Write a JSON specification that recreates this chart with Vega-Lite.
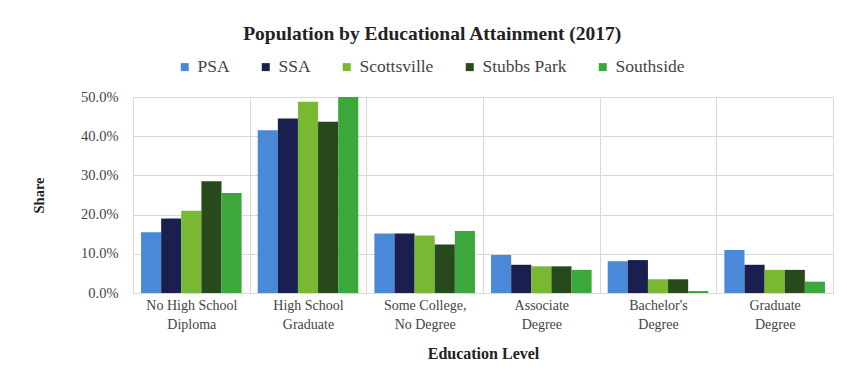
{
  "$schema": "https://vega.github.io/schema/vega-lite/v6.json",
  "autosize": "none",
  "width": 700,
  "height": 196,
  "padding": {"left": 133, "top": 97, "right": 14, "bottom": 95},
  "background": "white",
  "title": {
    "text": "Population by Educational Attainment (2017)",
    "font": "Liberation Serif",
    "fontSize": 19.5,
    "fontWeight": "bold",
    "color": "#222222",
    "anchor": "middle",
    "frame": "bounds",
    "offset": 14
  },
  "data": {
    "values": [
      {"level": "No High School Diploma", "area": "PSA", "share": 0.155},
      {"level": "No High School Diploma", "area": "SSA", "share": 0.19},
      {"level": "No High School Diploma", "area": "Scottsville", "share": 0.21},
      {"level": "No High School Diploma", "area": "Stubbs Park", "share": 0.285},
      {"level": "No High School Diploma", "area": "Southside", "share": 0.255},
      {"level": "High School Graduate", "area": "PSA", "share": 0.415},
      {"level": "High School Graduate", "area": "SSA", "share": 0.445},
      {"level": "High School Graduate", "area": "Scottsville", "share": 0.488},
      {"level": "High School Graduate", "area": "Stubbs Park", "share": 0.437},
      {"level": "High School Graduate", "area": "Southside", "share": 0.5},
      {"level": "Some College, No Degree", "area": "PSA", "share": 0.152},
      {"level": "Some College, No Degree", "area": "SSA", "share": 0.152},
      {"level": "Some College, No Degree", "area": "Scottsville", "share": 0.147},
      {"level": "Some College, No Degree", "area": "Stubbs Park", "share": 0.124},
      {"level": "Some College, No Degree", "area": "Southside", "share": 0.158},
      {"level": "Associate Degree", "area": "PSA", "share": 0.097},
      {"level": "Associate Degree", "area": "SSA", "share": 0.072},
      {"level": "Associate Degree", "area": "Scottsville", "share": 0.068},
      {"level": "Associate Degree", "area": "Stubbs Park", "share": 0.068},
      {"level": "Associate Degree", "area": "Southside", "share": 0.059},
      {"level": "Bachelor's Degree", "area": "PSA", "share": 0.081},
      {"level": "Bachelor's Degree", "area": "SSA", "share": 0.084},
      {"level": "Bachelor's Degree", "area": "Scottsville", "share": 0.035},
      {"level": "Bachelor's Degree", "area": "Stubbs Park", "share": 0.035},
      {"level": "Bachelor's Degree", "area": "Southside", "share": 0.005},
      {"level": "Graduate Degree", "area": "PSA", "share": 0.11},
      {"level": "Graduate Degree", "area": "SSA", "share": 0.072},
      {"level": "Graduate Degree", "area": "Scottsville", "share": 0.059},
      {"level": "Graduate Degree", "area": "Stubbs Park", "share": 0.059},
      {"level": "Graduate Degree", "area": "Southside", "share": 0.029}
    ]
  },
  "mark": {"type": "bar", "clip": true},
  "encoding": {
    "x": {
      "field": "level",
      "type": "nominal",
      "sort": ["No High School Diploma", "High School Graduate", "Some College, No Degree", "Associate Degree", "Bachelor's Degree", "Graduate Degree"],
      "scale": {"paddingInner": 0, "paddingOuter": 0},
      "axis": {
        "title": "Education Level",
        "titleFont": "Liberation Serif",
        "titleFontSize": 16,
        "titleFontWeight": "bold",
        "titleColor": "#222222",
        "titlePadding": 14,
        "labelAngle": 0,
        "labelFont": "Liberation Serif",
        "labelFontSize": 14,
        "labelColor": "#444444",
        "labelPadding": 5,
        "labelLineHeight": 19,
        "labelExpr": "datum.label == 'No High School Diploma' ? ['No High School', 'Diploma'] : datum.label == 'High School Graduate' ? ['High School', 'Graduate'] : datum.label == 'Some College, No Degree' ? ['Some College,', 'No Degree'] : datum.label == 'Associate Degree' ? ['Associate', 'Degree'] : datum.label == \"Bachelor's Degree\" ? [\"Bachelor's\", 'Degree'] : datum.label == 'Graduate Degree' ? ['Graduate', 'Degree'] : ''",
        "ticks": false,
        "grid": true,
        "tickBand": "extent",
        "gridColor": "#d9d9d9",
        "domainColor": "#d9d9d9"
      }
    },
    "xOffset": {
      "field": "area",
      "type": "nominal",
      "sort": ["PSA", "SSA", "Scottsville", "Stubbs Park", "Southside"],
      "scale": {"paddingInner": 0, "paddingOuter": 0.4}
    },
    "y": {
      "field": "share",
      "type": "quantitative",
      "scale": {"domain": [0, 0.5], "nice": false},
      "axis": {
        "title": "Share",
        "titleFont": "Liberation Serif",
        "titleFontSize": 14.5,
        "titleFontWeight": "bold",
        "titleColor": "#222222",
        "titlePadding": 34,
        "format": ".1%",
        "values": [0, 0.1, 0.2, 0.3, 0.4, 0.5],
        "labelFont": "Liberation Serif",
        "labelFontSize": 14.5,
        "labelColor": "#444444",
        "labelPadding": 15,
        "ticks": false,
        "domain": false,
        "gridColor": "#d9d9d9"
      }
    },
    "color": {
      "field": "area",
      "type": "nominal",
      "sort": ["PSA", "SSA", "Scottsville", "Stubbs Park", "Southside"],
      "scale": {
        "domain": ["PSA", "SSA", "Scottsville", "Stubbs Park", "Southside"],
        "range": ["#4a88d8", "#1b1f50", "#78b832", "#27491c", "#3ca83c"]
      },
      "legend": {
        "title": null,
        "orient": "none",
        "direction": "horizontal",
        "legendX": 43,
        "legendY": -39,
        "symbolType": "square",
        "symbolSize": 64,
        "symbolStrokeWidth": 0,
        "labelFont": "Liberation Serif",
        "labelFontSize": 17.5,
        "labelColor": "#444444",
        "labelOffset": 4,
        "columnPadding": 27
      }
    }
  },
  "config": {
    "view": {"stroke": null}
  }
}
